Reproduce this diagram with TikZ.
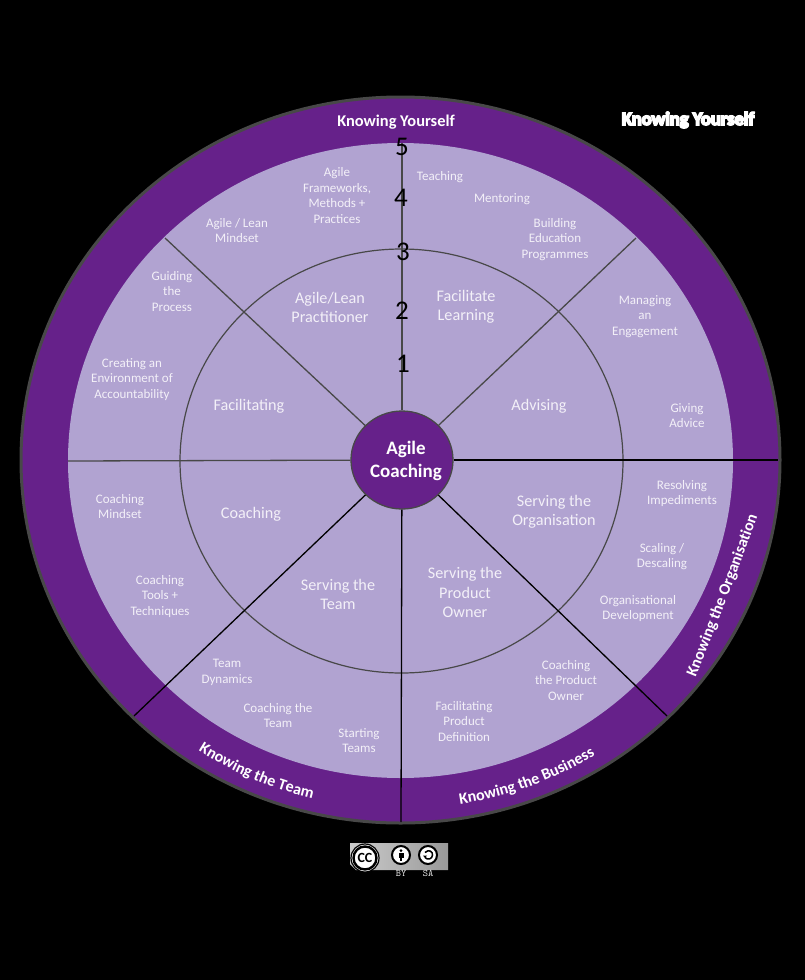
\documentclass[tikz,border=0pt]{standalone}
\usepackage{fontspec}
\setmainfont{Carlito}
\newfontfamily\blobfont[FakeBold=9]{Carlito Bold}
\usetikzlibrary{shapes.geometric,decorations.text}
\definecolor{ringpurple}{HTML}{66218A}
\definecolor{lightpurple}{HTML}{B1A3D1}
\definecolor{edgegrey}{HTML}{484848}
\definecolor{labelwhite}{HTML}{F3F0F8}
\tikzset{
  small label/.style={text=labelwhite,align=center,inner sep=0pt,yshift=-0.5pt,font=\fontsize{13}{15.4}\selectfont},
  mid label/.style={text=labelwhite,align=center,inner sep=0pt,yshift=-0.5pt,font=\fontsize{16.2}{19.2}\selectfont},
  scale label/.style={text=black,inner sep=0pt,font=\fontsize{27}{27}\selectfont},
  spoke grey/.style={draw=edgegrey,line width=1.3pt},
  spoke black/.style={draw=black,line width=1.3pt},
  ring text/.style={decorate,decoration={text along path,text color=white,text align=center,text={|\fontsize{16}{16}\selectfont\bfseries|#1}}},
}
% elliptical arc as one cubic, angles in degrees, on the ring-text baseline
\newcommand\ringarc[2]{%
  ({400.5+365*cos(#1)},{460+349*sin(#1)})
  .. controls ({400.5+365*cos(#1)-(4/3)*tan((#2-#1)/4)*365*sin(#1)},{460+349*sin(#1)+(4/3)*tan((#2-#1)/4)*349*cos(#1)})
  and ({400.5+365*cos(#2)+(4/3)*tan((#2-#1)/4)*365*sin(#2)},{460+349*sin(#2)-(4/3)*tan((#2-#1)/4)*349*cos(#2)})
  .. ({400.5+365*cos(#2)},{460+349*sin(#2)})}
\begin{document}
\begin{tikzpicture}[x=1pt,y=-1pt]
\useasboundingbox (0,0) rectangle (805,980);
\fill[black] (0,0) rectangle (805,980);
% wheel
\node[ellipse,draw=edgegrey,line width=3pt,fill=ringpurple,minimum width=759pt,minimum height=726pt,inner sep=0pt] (outer) at (400.5,460) {};
\node[ellipse,fill=lightpurple,minimum width=665pt,minimum height=635pt,inner sep=0pt] (inner) at (400.5,460.5) {};
\node[ellipse,draw=edgegrey,line width=1.2pt,minimum width=443pt,minimum height=424pt,inner sep=0pt] (middle) at (401.5,461) {};
% spokes free ends
\coordinate (nTop) at (402,143);
\coordinate (nTL) at (165,238);
\coordinate (nTR) at (636,238);
\coordinate (nL) at (68,461);
\coordinate (nR) at (778,460);
\coordinate (nBR) at (667,716);
\coordinate (nB) at (401,822);
\coordinate (nBL) at (134,716);
\node[ellipse,draw=edgegrey,line width=1.3pt,fill=ringpurple,minimum width=102pt,minimum height=98pt,inner sep=0pt] (hub) at (402,460) {};
\node[inner sep=0pt,text=white,align=center,font=\fontsize{19}{23}\selectfont\bfseries] (hubtext) at (406,461) {Agile\\Coaching};
\draw[spoke grey] (hub) -- (nTop);
\draw[spoke grey] (hub) -- (nTL);
\draw[spoke grey] (hub) -- (nTR);
\draw[spoke grey] (hub) -- (nL);
\draw[spoke black] (hub) -- (nR);
\draw[spoke black] (hub) -- (nBR);
\draw[spoke black] (hub) -- (nB);
\draw[spoke black] (hub) -- (nBL);
% scale
\node[scale label] (s5) at (402,147) {5};
\node[scale label] (s4) at (401,198) {4};
\node[scale label] (s3) at (403,252) {3};
\node[scale label] (s2) at (402,311) {2};
\node[scale label] (s1) at (403,364) {1};
% ring titles
\node[text=white,inner sep=0pt,font=\fontsize{16.4}{17}\selectfont\bfseries] (kySelf) at (396,122) {Knowing Yourself};
\path[ring text={Knowing the Organisation}] (695,679) .. controls (712,637) and (741,563) .. (758,515);
\path[ring text={Knowing the Team}] \ringarc{145}{83};
\path[ring text={Knowing the Business}] \ringarc{100}{38};
% faded title
\node[text=white,inner sep=0pt,font=\fontsize{18.5}{19}\blobfont\selectfont] (blob) at (688,120) {Knowing Yourself};
% mid labels
\node[mid label] (m1) at (330,307) {Agile/Lean\\Practitioner};
\node[mid label] (m2) at (466,306) {Facilitate\\Learning};
\node[mid label] (m3) at (249,406) {Facilitating};
\node[mid label] (m4) at (539,406) {Advising};
\node[mid label] (m5) at (251,514) {Coaching};
\node[mid label] (m6) at (338,594) {Serving the\\Team};
\node[mid label] (m7) at (465,592) {Serving the\\Product\\Owner};
\node[mid label] (m8) at (554,511) {Serving the\\Organisation};
% small labels
\node[small label] (a1) at (337,195) {Agile\\Frameworks,\\Methods +\\Practices};
\node[small label] (a2) at (440,177) {Teaching};
\node[small label] (a3) at (502,199) {Mentoring};
\node[small label] (a4) at (555,239) {Building\\Education\\Programmes};
\node[small label] (a5) at (237,230) {Agile / Lean\\Mindset};
\node[small label] (a6) at (172,291) {Guiding\\the\\Process};
\node[small label] (a7) at (132,379) {Creating an\\Environment of\\Accountability};
\node[small label] (a8) at (645,316) {Managing\\an\\Engagement};
\node[small label] (a9) at (687,415) {Giving\\Advice};
\node[small label] (a10) at (682,493) {Resolving\\Impediments};
\node[small label] (a11) at (662,556) {Scaling /\\Descaling};
\node[small label] (a12) at (638,608) {Organisational\\Development};
\node[small label] (a13) at (566,680) {Coaching\\the Product\\Owner};
\node[small label] (a14) at (464,721) {Facilitating\\Product\\Definition};
\node[small label] (a15) at (359,740) {Starting\\Teams};
\node[small label] (a16) at (278,715) {Coaching the\\Team};
\node[small label] (a17) at (227,672) {Team\\Dynamics};
\node[small label] (a18) at (160,596) {Coaching\\Tools +\\Techniques};
\node[small label] (a19) at (120,506) {Coaching\\Mindset};
% licence badge
\fill[left color=gray!40,right color=gray!80] (350,843) -- (448,843) -- (448,870) -- (356,870) -- (350,864) -- cycle;
\filldraw[fill=white,draw=black,line width=1.2pt] (365,858) circle[radius=14pt];
\draw[black,line width=2.4pt] (365,858) circle[radius=11.5pt];
\node[inner sep=0pt,text=black,font=\fontsize{14}{14}\selectfont\bfseries] (ccmark) at (365,858) {CC};
\filldraw[fill=white,draw=black,line width=2pt] (401,855) circle[radius=9pt];
\fill[black] (401,850.6) circle[radius=1.6pt];
\fill[black] (398.5,853) rectangle (403.5,857.5);
\fill[black] (399.7,857) rectangle (402.3,861);
\filldraw[fill=white,draw=black,line width=2pt] (428,855) circle[radius=9pt];
\draw[black,line width=1.5pt] (425,852.5) .. controls (429,848.5) and (433,852) .. (432.5,855) .. controls (432.5,859) and (427.5,860.5) .. (425,857.5);
\fill[black] (423,855.5) -- (427,855.5) -- (425,858) -- cycle;
\node[inner sep=0pt,text=white!90!black,font=\fontsize{10}{10}\ttfamily] (by) at (401,873) {BY};
\node[inner sep=0pt,text=white!90!black,font=\fontsize{10}{10}\ttfamily] (sa) at (428,873) {SA};
\end{tikzpicture}
\end{document}
